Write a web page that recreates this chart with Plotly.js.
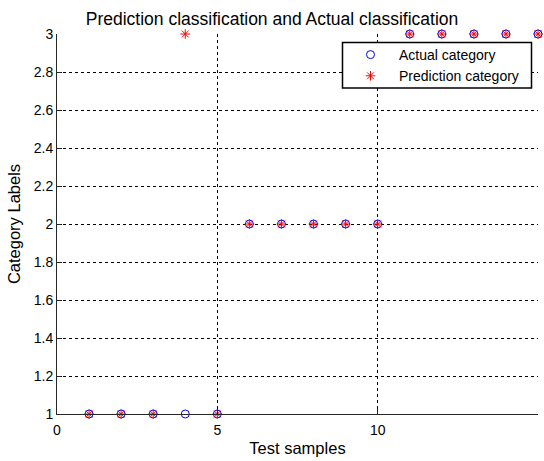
<!DOCTYPE html>
<html>
<head>
<meta charset="utf-8">
<script src="https://cdn.plot.ly/plotly-3.0.1.min.js"></script>
<style>html,body{margin:0;padding:0;background:#fff;}#chart{width:544px;height:461px;}</style>
</head>
<body>
<div id="chart"></div>
<script>
var samples = [1,2,3,4,5,6,7,8,9,10,11,12,13,14,15];
var actualCategory = [1,1,1,1,1,2,2,2,2,2,3,3,3,3,3];
var predictionCategory = [1,1,1,3,1,2,2,2,2,2,3,3,3,3,3];
var xTicks = [0,5,10,15];
var yTicks = [1,1.2,1.4,1.6,1.8,2,2.2,2.4,2.6,2.8,3];
var yTickText = ['1','1.2','1.4','1.6','1.8','2','2.2','2.4','2.6','2.8','3'];

var font = '"Liberation Sans", Arial, sans-serif';

var traces = [
  {x: samples, y: actualCategory, mode: 'markers', type: 'scatter', name: 'Actual category',
   cliponaxis: false,
   marker: {symbol: 'circle-open', size: 8, color: '#0000ff', line: {width: 1, color: '#0000ff'}}},
  {x: samples, y: predictionCategory, mode: 'markers', type: 'scatter', name: 'Prediction category',
   cliponaxis: false,
   marker: {symbol: 'asterisk-open', size: 8, color: '#ff0000', line: {width: 1, color: '#ff0000'}}}
];

var L = 57, W = 481, B = 413.7, H = 379.7;
function px(x) { return (x - L) / W; }
function py(y) { return (B - y) / H; }

var layout = {
  width: 544, height: 461,
  margin: {l: 57, r: 6, t: 34, b: 47.3},
  paper_bgcolor: '#ffffff', plot_bgcolor: '#ffffff',
  font: {family: font, size: 14, color: '#000000'},
  title: {text: 'Prediction classification and Actual classification', font: {family: font, size: 17.5, color: '#000'},
          x: 0.5, xanchor: 'center', y: 1 - 19/461, yanchor: 'middle'},
  xaxis: {range: [0, 15], tickmode: 'array', tickvals: xTicks, ticktext: xTicks.map(String),
          showgrid: true, gridcolor: '#000', griddash: '3px,3px', gridwidth: 1,
          showline: true, linecolor: '#262626', linewidth: 1, mirror: false,
          ticks: 'inside', ticklen: 5, tickcolor: '#262626', zeroline: false,
          ticklabelstandoff: 3,
          tickfont: {size: 14, color: '#000'},
          title: {text: 'Test samples', font: {size: 16.5, color: '#000'}, standoff: 5}},
  yaxis: {range: [1, 3], tickmode: 'array', tickvals: yTicks, ticktext: yTickText,
          showgrid: true, gridcolor: '#000', griddash: '3px,3px', gridwidth: 1,
          showline: true, linecolor: '#262626', linewidth: 1, mirror: false,
          ticks: 'inside', ticklen: 5, tickcolor: '#262626', zeroline: false,
          tickfont: {size: 14, color: '#000'},
          title: {text: 'Category Labels', font: {size: 16.5, color: '#000'}, standoff: 8}},
  shapes: [
    {type: 'rect', xref: 'paper', yref: 'paper', x0: px(342.5), x1: px(531.5), y0: py(42.5), y1: py(88),
     fillcolor: '#ffffff', line: {color: '#000', width: 1.5}, layer: 'above'}
  ],
  showlegend: true,
  legend: {x: px(342), xanchor: 'left', y: py(39), yanchor: 'top',
           bgcolor: 'rgba(0,0,0,0)', borderwidth: 0,
           itemwidth: 47, font: {size: 14, color: '#000'}, tracegroupgap: 0}
};

Plotly.newPlot('chart', traces, layout, {staticPlot: true, displayModeBar: false});
</script>
</body>
</html>
